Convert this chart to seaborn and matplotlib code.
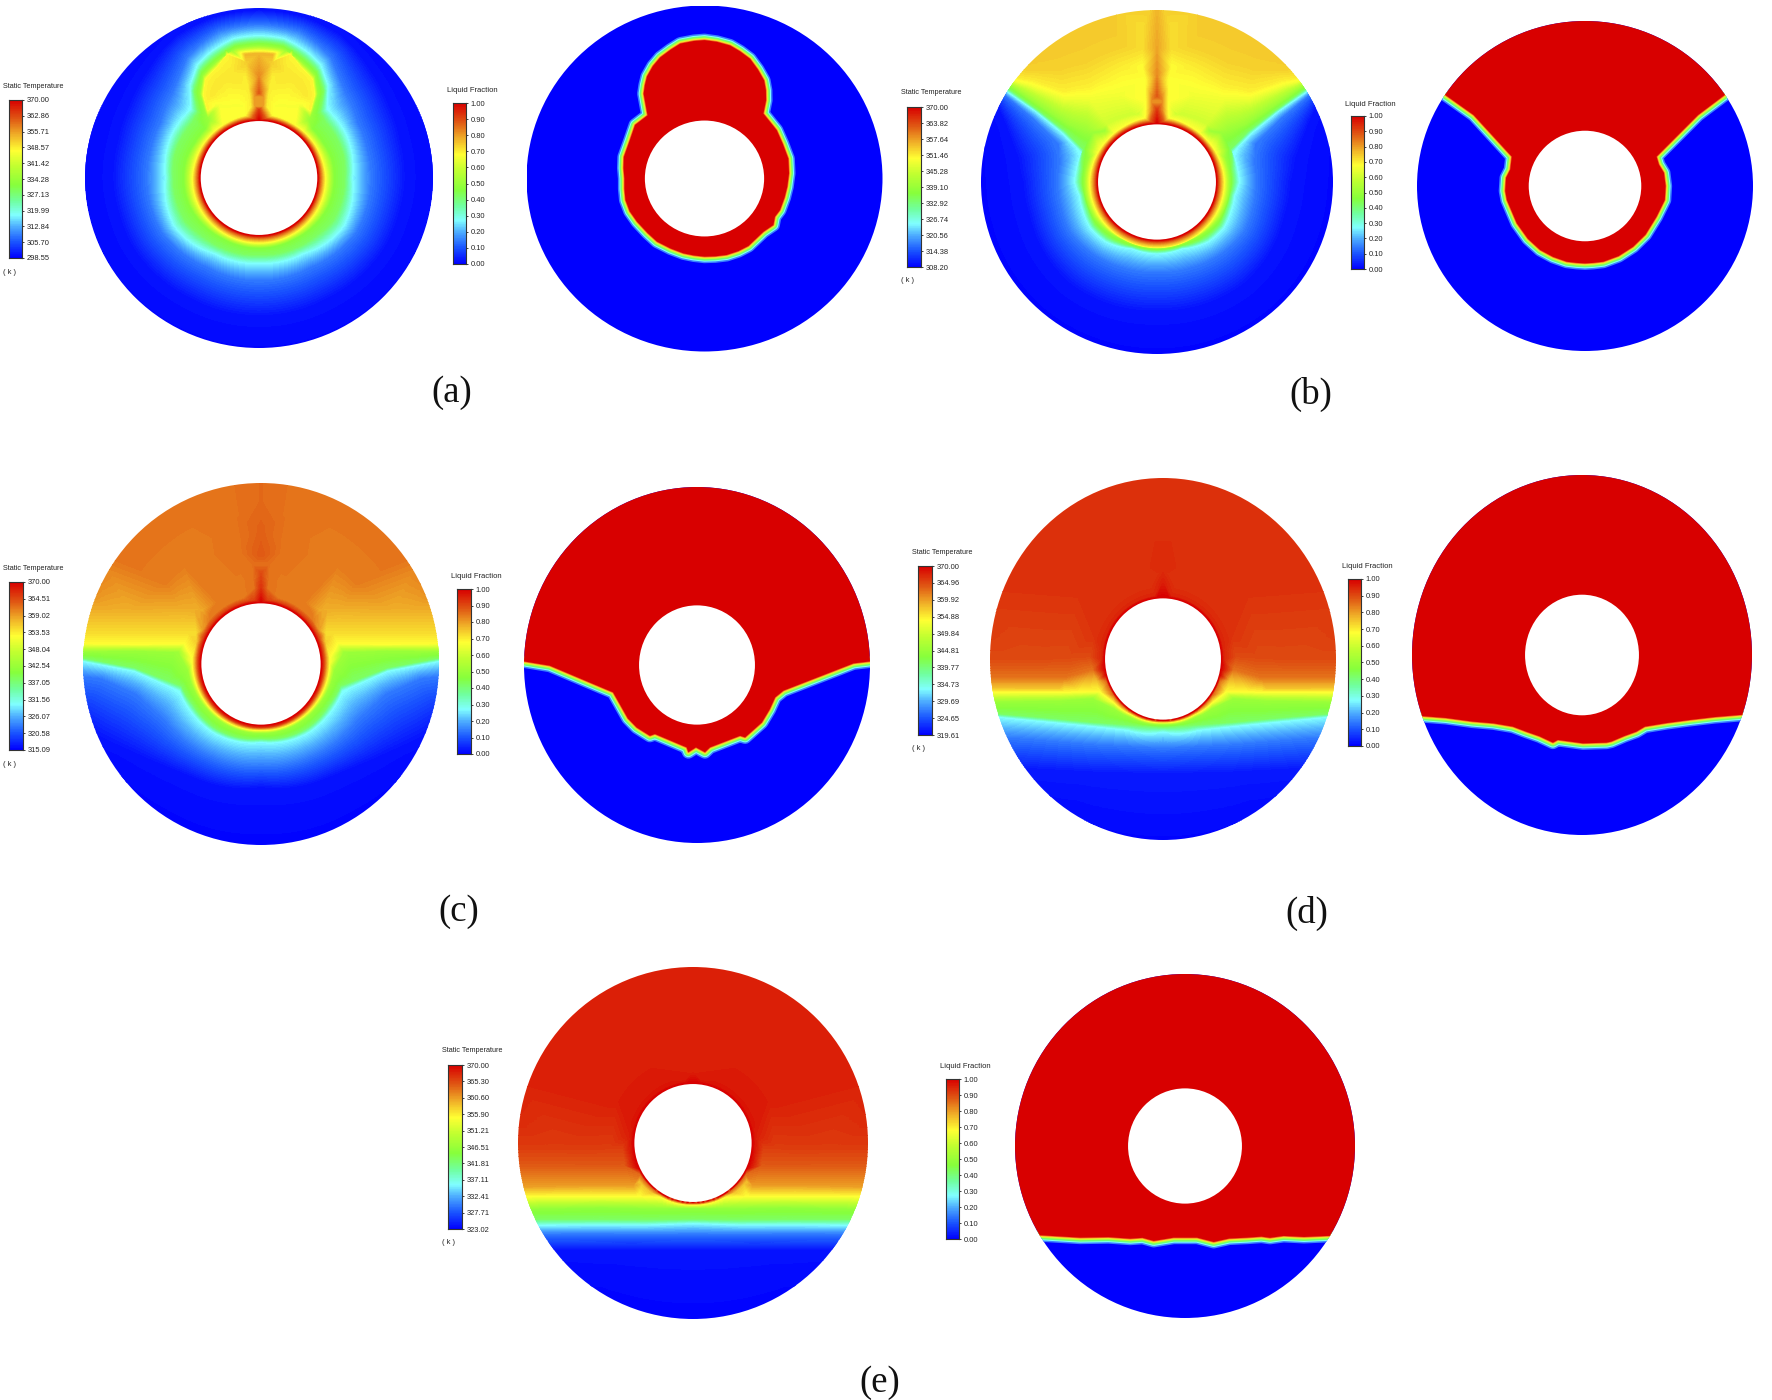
"""Melting front panels: temperature and liquid fraction in an annulus, (a) to (e)."""

import matplotlib

matplotlib.use("Agg")

import matplotlib.pyplot as plt
import matplotlib.tri as mtri
import numpy as np
import seaborn as sns
from matplotlib.colors import LinearSegmentedColormap
from matplotlib.patches import Circle, Polygon

W, H = 1772, 1400
DPI = 100
HOLE = 0.335

# Fluent style rainbow
JET_STOPS = [
    (0.00, "#0000ff"), (0.10, "#1a55ff"), (0.20, "#4fb0ff"), (0.27, "#80ffff"),
    (0.36, "#70ffa0"), (0.46, "#86ff3c"), (0.58, "#c0ff30"), (0.68, "#ffff33"),
    (0.78, "#f0b028"), (0.88, "#e05a14"), (1.00, "#d80000"),
]

# Legend tick labels
TICKS_A = ["370.00", "362.86", "355.71", "348.57", "341.42", "334.28", "327.13", "319.99", "312.84", "305.70", "298.55"]
TICKS_B = ["370.00", "363.82", "357.64", "351.46", "345.28", "339.10", "332.92", "326.74", "320.56", "314.38", "308.20"]
TICKS_C = ["370.00", "364.51", "359.02", "353.53", "348.04", "342.54", "337.05", "331.56", "326.07", "320.58", "315.09"]
TICKS_D = ["370.00", "364.96", "359.92", "354.88", "349.84", "344.81", "339.77", "334.73", "329.69", "324.65", "319.61"]
TICKS_E = ["370.00", "365.30", "360.60", "355.90", "351.21", "346.51", "341.81", "337.11", "332.41", "327.71", "323.02"]
TICKS_LF = ["1.00", "0.90", "0.80", "0.70", "0.60", "0.50", "0.40", "0.30", "0.20", "0.10", "0.00"]

# Isotherms: (colour level, [(angle from top in deg, radius / outer radius), ...])
# The right half is the mirror of the left one.
ISO_A = [
    (0.88, [(6, 0.35), (30, 0.35), (60, 0.35), (90, 0.35), (120, 0.35), (150, 0.35), (180, 0.35)]),
    (0.68, [(12, 0.372), (30, 0.37), (50, 0.372), (75, 0.375), (90, 0.38), (120, 0.38), (150, 0.38), (180, 0.38)]),
    (0.92, [(0, 0.40)]),
    (0.88, [(0, 0.50)]),
    (0.82, [(0, 0.60)]),
    (0.80, [(3, 0.42), (3, 0.50)]),
    (0.70, [(6, 0.42), (6, 0.50), (7, 0.60)]),
    (0.74, [(6, 0.68)]),
    (0.67, [(12, 0.44), (22, 0.46), (30, 0.50)]),
    (0.71, [(28, 0.56), (22, 0.61), (13, 0.64)]),
    (0.77, [(0, 0.73), (6, 0.73)]),
    (0.69, [(14, 0.745), (20, 0.69), (28, 0.65), (33, 0.58), (36, 0.50)]),
    (0.50, [(0, 0.775), (10, 0.77), (20, 0.72), (28, 0.68), (34, 0.60), (38, 0.50), (40, 0.44)]),
    (0.46, [(47, 0.42), (60, 0.42), (75, 0.43), (90, 0.43), (110, 0.43), (130, 0.42), (150, 0.41), (180, 0.41)]),
    (0.42, [(0, 0.80), (10, 0.795), (20, 0.75), (28, 0.71), (36, 0.63), (42, 0.52), (50, 0.50), (62, 0.50), (75, 0.50),
            (90, 0.49), (105, 0.49), (120, 0.49), (135, 0.47), (150, 0.46), (180, 0.45)]),
    (0.27, [(0, 0.835), (10, 0.83), (20, 0.79), (28, 0.75), (36, 0.67), (44, 0.56), (52, 0.56), (62, 0.56), (75, 0.55),
            (90, 0.535), (105, 0.55), (120, 0.56), (135, 0.54), (150, 0.51), (180, 0.50)]),
    (0.14, [(0, 0.90), (15, 0.89), (30, 0.82), (45, 0.70), (60, 0.65), (75, 0.64), (90, 0.64), (105, 0.64), (120, 0.64),
            (135, 0.62), (150, 0.60), (180, 0.60)]),
    (0.02, [(0, 0.985), (15, 0.98), (30, 0.96), (45, 0.90), (60, 0.86), (75, 0.84), (90, 0.84), (105, 0.83), (120, 0.83),
            (135, 0.82), (150, 0.81), (180, 0.81)]),
    (0.00, [(0, 1.1), (30, 1.1), (60, 1.1), (90, 1.1), (120, 1.1), (150, 1.1), (180, 1.1)]),
]

ISO_B = [
    (0.88, [(6, 0.35), (30, 0.35), (60, 0.35), (90, 0.35), (120, 0.35), (150, 0.35), (180, 0.35)]),
    (0.68, [(10, 0.375), (30, 0.37), (50, 0.37), (70, 0.375), (90, 0.38), (120, 0.38), (150, 0.38), (180, 0.38)]),
    (0.92, [(0, 0.42)]),
    (0.88, [(0, 0.50)]),
    (0.82, [(0, 0.62)]),
    (0.79, [(0, 0.78)]),
    (0.82, [(4, 0.42), (3, 0.50)]),
    (0.78, [(0, 0.90)]),
    (0.76, [(0, 1.1)]),
    (0.75, [(15, 1.1), (30, 1.1), (45, 1.1), (52, 1.1)]),
    (0.68, [(8, 0.44), (7, 0.52), (6, 0.60), (7, 0.68)]),
    (0.72, [(6, 0.78), (5, 0.90)]),
    (0.60, [(15, 0.41), (25, 0.42), (40, 0.44)]),
    (0.74, [(15, 0.82), (30, 0.82), (40, 0.87), (48, 0.98)]),
    (0.70, [(15, 0.70), (25, 0.68), (35, 0.68), (45, 0.75), (50, 0.92), (54, 1.05)]),
    (0.66, [(22, 0.55), (38, 0.62), (47, 0.72), (52, 0.92), (55, 1.05)]),
    (0.50, [(45, 0.42), (52, 0.46), (56, 0.60), (56, 0.80), (56, 1.05)]),
    (0.50, [(70, 0.41), (90, 0.41), (120, 0.41), (150, 0.385), (180, 0.385)]),
    (0.42, [(57, 1.05), (58, 0.80), (60, 0.60), (65, 0.46), (80, 0.43), (90, 0.43), (100, 0.42), (112, 0.42), (125, 0.43), (140, 0.42), (160, 0.395), (180, 0.395)]),
    (0.27, [(58, 1.05), (59, 0.80), (62, 0.60), (68, 0.46), (80, 0.46), (90, 0.465), (100, 0.445), (112, 0.45), (125, 0.46), (140, 0.45), (160, 0.41), (180, 0.415)]),
    (0.14, [(59, 1.05), (62, 0.80), (68, 0.60), (78, 0.56), (90, 0.56), (105, 0.56), (120, 0.57), (140, 0.55), (160, 0.53), (180, 0.52)]),
    (0.02, [(62, 1.05), (68, 0.93), (80, 0.80), (90, 0.76), (105, 0.75), (120, 0.76), (140, 0.77), (160, 0.76), (180, 0.75)]),
    (0.00, [(75, 1.1), (105, 1.1), (135, 1.1), (180, 1.1)]),
]

ISO_C = [
    (0.91, [(6, 0.352), (30, 0.352), (60, 0.352), (90, 0.352), (120, 0.35), (150, 0.35), (180, 0.35)]),
    (0.84, [(15, 0.375), (30, 0.375), (50, 0.375)]),
    (0.80, [(60, 0.375)]),
    (0.74, [(72, 0.38)]),
    (0.93, [(0, 0.42)]),
    (0.90, [(0, 0.50)]),
    (0.88, [(0, 0.60)]),
    (0.87, [(0, 0.75)]),
    (0.86, [(0, 0.90), (0, 1.1)]),
    (0.85, [(5, 0.42), (5, 0.55)]),
    (0.85, [(10, 0.62), (10, 0.80), (10, 1.1)]),
    (0.85, [(10, 1.1), (30, 1.1), (50, 1.1), (65, 1.1)]),
    (0.84, [(15, 0.45), (35, 0.42), (45, 0.40)]),
    (0.84, [(30, 0.70), (50, 0.70)]),
    (0.78, [(48, 0.446), (55, 0.53), (65, 0.71), (72, 0.97), (75, 1.16)]),
    (0.72, [(65, 0.40), (75, 0.66), (80, 0.98), (82, 1.22)]),
    (0.68, [(75, 0.445), (81, 0.71), (83.4, 1.0), (84.5, 1.2)]),
    (0.68, [(85, 0.385), (100, 0.38), (120, 0.375), (150, 0.37), (180, 0.365)]),
    (0.50, [(82, 0.47), (84, 0.71), (86, 1.0), (87, 1.2)]),
    (0.50, [(95, 0.41), (110, 0.40), (130, 0.39), (150, 0.385), (180, 0.38)]),
    (0.42, [(87.5, 1.2), (88, 1.0), (91.5, 0.71), (105, 0.46), (120, 0.44), (143, 0.435), (180, 0.41)]),
    (0.27, [(88.5, 1.2), (89, 1.0), (93, 0.71), (108, 0.478), (122, 0.47), (145, 0.46), (180, 0.43)]),
    (0.14, [(92, 1.2), (95, 0.90), (103, 0.72), (120, 0.62), (150, 0.58), (180, 0.56)]),
    (0.02, [(103, 1.15), (115, 0.98), (130, 0.82), (150, 0.73), (180, 0.68)]),
    (0.00, [(110, 1.25), (125, 1.1), (150, 1.1), (180, 1.1)]),
]

ISO_D = [
    (0.95, [(8, 0.35), (40, 0.35), (70, 0.35), (90, 0.35)]),
    (0.86, [(110, 0.347), (140, 0.345), (180, 0.343)]),
    (0.96, [(0, 0.42)]),
    (0.94, [(0, 0.50)]),
    (0.93, [(0, 1.1), (30, 1.1), (60, 1.1), (78, 1.1)]),
    (0.93, [(30, 0.60), (55, 0.60)]),
    (0.93, [(10, 0.42), (50, 0.42), (72, 0.42)]),
    (0.90, [(88, 0.42), (90, 0.70), (90, 1.1)]),
    (0.85, [(98, 0.41)]),
    (0.76, [(107, 0.40)]),
    (0.85, [(100, 0.58), (97, 0.82), (95, 1.15)]),
    (0.75, [(105, 0.62), (101, 0.84), (98, 1.15)]),
    (0.68, [(116, 0.405), (107, 0.62), (102, 0.87), (99.5, 1.1)]),
    (0.68, [(130, 0.37), (150, 0.355), (180, 0.35)]),
    (0.50, [(118, 0.46), (111, 0.64), (105, 0.90), (101.5, 1.2)]),
    (0.50, [(135, 0.39), (150, 0.37), (180, 0.36)]),
    (0.42, [(104, 1.24), (107.5, 1.0), (114.6, 0.77), (131, 0.53), (180, 0.375)]),
    (0.27, [(104.5, 1.24), (108.6, 1.0), (116, 0.78), (132.8, 0.545), (152.9, 0.44), (180, 0.40)]),
    (0.14, [(109.3, 1.27), (118.8, 0.91), (139.6, 0.617), (180, 0.49)]),
    (0.03, [(116.6, 1.34), (126.9, 1.0), (147, 0.74), (180, 0.63)]),
    (0.00, [(130, 1.3), (150, 1.1), (180, 1.1)]),
]

ISO_E = [
    (0.97, [(8, 0.352), (40, 0.352), (70, 0.352), (100, 0.352)]),
    (0.86, [(120, 0.348), (135, 0.345), (150, 0.343), (180, 0.342)]),
    (0.75, [(125, 0.375), (140, 0.365)]),
    (0.96, [(0, 0.40)]),
    (0.96, [(0, 1.1), (30, 1.1), (60, 1.1), (78, 1.1)]),
    (0.96, [(30, 0.50), (60, 0.50)]),
    (0.92, [(92, 0.40), (92, 0.60), (91, 1.1)]),
    (0.88, [(108, 0.41)]),
    (0.88, [(105, 0.50), (99, 0.80), (96, 1.2)]),
    (0.80, [(125, 0.42), (112, 0.64), (103, 1.1)]),
    (0.68, [(135, 0.425), (120, 0.60), (107, 1.03), (104, 1.25)]),
    (0.68, [(150, 0.355), (180, 0.35)]),
    (0.48, [(180, 0.37), (150, 0.43), (125, 0.64), (112, 1.0), (107.3, 1.25)]),
    (0.42, [(180, 0.43), (150, 0.50), (130, 0.67), (115.5, 1.0), (110, 1.26)]),
    (0.27, [(180, 0.455), (150, 0.535), (130, 0.72), (118, 0.99), (112, 1.24)]),
    (0.14, [(180, 0.515), (150, 0.595), (130, 0.80), (121, 1.0), (114, 1.27)]),
    (0.02, [(180, 0.61), (150, 0.70), (130, 0.95), (125, 1.06), (120, 1.22)]),
    (0.00, [(180, 1.1), (150, 1.1), (135, 1.2)]),
]

# Melt fronts, x and y relative to the outer radius
FRONT_A_X = [0, -0.06, -0.136, -0.19, -0.249, -0.29, -0.323, -0.335, -0.342, -0.32, -0.39, -0.42, -0.453, -0.455, -0.45, -0.45,
             -0.444, -0.42, -0.379, -0.32, -0.267, -0.19, -0.118, -0.06, 0,
             0.06, 0.125, 0.19, 0.247, 0.331, 0.387, 0.396, 0.424, 0.45, 0.465, 0.475, 0.471, 0.44, 0.406, 0.331, 0.346, 0.345, 0.335, 0.30, 0.256, 0.2, 0.144, 0.07]
FRONT_A_Y = [0.80, 0.795, 0.78, 0.745, 0.70, 0.65, 0.59, 0.54, 0.49, 0.365, 0.31, 0.22, 0.125, 0.06, 0, -0.06,
             -0.125, -0.19, -0.25, -0.315, -0.365, -0.405, -0.433, -0.445, -0.452,
             -0.45, -0.442, -0.42, -0.39, -0.308, -0.269, -0.221, -0.183, -0.11, -0.048, 0.03, 0.115, 0.2, 0.279, 0.375, 0.452, 0.51, 0.567, 0.63, 0.692, 0.735, 0.769, 0.79]
FRONT_B_X = [-1.0, -0.832, -0.663, -0.436, -0.445, -0.47, -0.475, -0.465, -0.406, -0.34, -0.267, -0.19, -0.109, -0.05, 0,
             0.05, 0.109, 0.2, 0.287, 0.36, 0.426, 0.475, 0.48, 0.47, 0.44, 0.426, 0.673, 0.832, 1.0, 1.0, -1.0]
FRONT_B_Y = [0.66, 0.552, 0.43, 0.178, 0.10, 0.05, -0.03, -0.085, -0.226, -0.32, -0.388, -0.43, -0.459, -0.466, -0.469,
             -0.466, -0.459, -0.425, -0.368, -0.295, -0.186, -0.085, 0.0, 0.08, 0.13, 0.178, 0.43, 0.552, 0.66, 1.2, 1.2]
FRONT_C_X = [-1.1, -1.0, -0.851, -0.485, -0.436, -0.40, -0.349, -0.31, -0.272, -0.243, -0.06, -0.05, -0.006, 0.046, 0.075,
             0.249, 0.278, 0.375, 0.42, 0.452, 0.5, 0.905, 1.0, 1.1, 1.1, -1.1]
FRONT_C_Y = [0.02, 0.02, -0.004, -0.154, -0.238, -0.30, -0.351, -0.375, -0.398, -0.388, -0.463, -0.49, -0.463, -0.49, -0.463,
             -0.398, -0.407, -0.323, -0.25, -0.182, -0.144, 0.009, 0.02, 0.02, 1.2, 1.2]
FRONT_D_X = [-1.1, -0.95, -0.80, -0.644, -0.52, -0.407, -0.329, -0.25, -0.171, -0.142, 0.006, 0.144, 0.173, 0.25, 0.32, 0.37, 0.5, 0.636, 0.78, 0.931, 1.1, 1.1, -1.1]
FRONT_D_Y = [-0.33, -0.339, -0.35, -0.37, -0.38, -0.398, -0.426, -0.452, -0.487, -0.472, -0.491, -0.487, -0.481, -0.45, -0.426, -0.398, -0.378, -0.361, -0.345, -0.333, -0.33, 1.2, 1.2]
FRONT_E_X = [-1.1, -0.851, -0.616, -0.45, -0.322, -0.25, -0.184, -0.067, 0.071, 0.169, 0.26, 0.365, 0.45, 0.5, 0.58, 0.7, 0.835, 1.1, 1.1, -1.1]
FRONT_E_Y = [-0.519, -0.519, -0.533, -0.530, -0.539, -0.534, -0.552, -0.533, -0.533, -0.558, -0.538, -0.533, -0.527, -0.534, -0.523, -0.529, -0.523, -0.52, 1.2, 1.2]

# Layout in picture pixels
TEMP_PANELS = [  # cx, cy, rx, ry
    (259, 178, 174, 170), (1157, 182, 176, 172), (261, 664, 178, 181), (1163, 659, 173, 181), (693, 1143, 175, 176),
]
FRAC_PANELS = [
    (704.5, 178.5, 178, 173), (1585, 186, 168, 165), (697, 665, 173, 178), (1582, 655, 170, 180), (1185, 1146, 170, 172),
]
TEMP_BARS = [  # left, top, right, bottom
    (9, 100, 22, 258), (907, 107, 921, 267), (9, 582, 23, 750), (918, 566, 932, 735), (448, 1065, 462, 1229),
]
FRAC_BARS = [
    (453, 103, 466, 264), (1351, 116, 1364, 269), (457, 589, 471, 754), (1348, 579, 1361, 746), (946, 1079, 959, 1239),
]
TAGS = [("(a)", 452, 393), ("(b)", 1311, 394), ("(c)", 459, 912), ("(d)", 1307, 913), ("(e)", 880, 1383)]

sns.set_theme(style="white")
plt.rcParams["font.family"] = ["Liberation Sans", "DejaVu Sans"]

rainbow = LinearSegmentedColormap.from_list("fluent", JET_STOPS, N=512)


def add_panel(fig, box):
    cx, cy, rx, ry = box
    ax = fig.add_axes([(cx - rx) / W, 1 - (cy + ry) / H, 2 * rx / W, 2 * ry / H])
    ax.set_xlim(-1, 1)
    ax.set_ylim(-1, 1)
    ax.axis("off")
    return ax


def to_xy(angle, r):
    t = np.radians(angle)
    return -r * np.sin(t), r * np.cos(t)


def mesh_nodes(pts):
    # mesh nodes along one isotherm, so the triangles follow the line and not the gaps between readings
    nodes = [to_xy(*pts[0])]
    for (a0, r0), (a1, r1) in zip(pts[:-1], pts[1:]):
        x0, y0 = to_xy(a0, r0)
        x1, y1 = to_xy(a1, r1)
        n = max(1, int(np.hypot(x1 - x0, y1 - y0) / 0.02))
        for f in np.arange(1, n + 1) / n:
            if abs(r1 - r0) < 0.1 * max(r0, r1):
                nodes.append(to_xy(a0 + f * (a1 - a0), r0 + f * (r1 - r0)))  # arc around the tube
            else:
                nodes.append((x0 + f * (x1 - x0), y0 + f * (y1 - y0)))  # straight run
    return nodes


def draw_temperature(ax, isos):
    field = {}
    wall_angles = list(range(0, 181, 5))
    rows = [(1.0, [(a, 0.31) for a in wall_angles]), (1.0, [(a, 0.338) for a in wall_angles])] + isos
    for level, pts in rows:
        for x, y in mesh_nodes(pts):
            field.setdefault((round(x, 4), round(y, 4)), level)
            field.setdefault((round(-x, 4), round(y, 4)), level)
    xy = np.array(list(field.keys()))
    tri = mtri.Triangulation(xy[:, 0], xy[:, 1])
    cs = ax.tricontourf(tri, np.array(list(field.values())), levels=np.linspace(0, 1, 129), cmap=rainbow, vmin=0, vmax=1, extend="both")
    cs.set_clip_path(Circle((0, 0), 1, transform=ax.transData))
    ax.add_patch(Circle((0, 0), HOLE, fc="white", ec="none", zorder=5))


def draw_fraction(ax, fx, fy):
    ax.add_patch(Circle((0, 0), 1, fc="#0000ff", ec="none", zorder=1))
    outline = np.column_stack([fx, fy])
    clip = Circle((0, 0), 1, transform=ax.transData)
    # widest stroke first, the red fill on top hides the inner half of each
    for width, colour in [(13, "#3a80ff"), (10, "#80ffff"), (8, "#70ff70"), (5, "#c8ff30"), (3, "#ffe030"), (1.5, "#f07020")]:
        p = Polygon(outline, closed=True, fc="none", ec=colour, lw=width * 72 / DPI, joinstyle="round", zorder=2)
        ax.add_patch(p)
        p.set_clip_path(clip)
    p = Polygon(outline, closed=True, fc="#d80000", ec="none", zorder=3)
    ax.add_patch(p)
    p.set_clip_path(clip)
    ax.add_patch(Circle((0, 0), HOLE, fc="white", ec="none", zorder=5))


def draw_legend(fig, bar, title, labels, show_unit, title_gap, title_size):
    left, top, right, bottom = bar
    ax = fig.add_axes([left / W, 1 - bottom / H, (right - left) / W, (bottom - top) / H])
    high, low = float(labels[0]), float(labels[-1])
    ramp = np.linspace(high, low, 220)[:, None]
    sns.heatmap(ramp, cmap=rainbow, vmin=low, vmax=high, cbar=False, ax=ax, xticklabels=False, yticklabels=False)
    ax.set_yticks(np.linspace(0, 220, len(labels)))
    ax.set_yticklabels(labels, rotation=0, fontsize=5.4, color="#222222")
    ax.yaxis.tick_right()
    ax.tick_params(axis="y", length=1.6, width=0.6, pad=1.8, color="#222222", right=True)
    for spine in ax.spines.values():
        spine.set_visible(True)
        spine.set_linewidth(0.8)
        spine.set_color("#333333")
    fig.text((left - 6) / W, 1 - (top - title_gap) / H, title, fontsize=title_size, color="#222222", va="center", ha="left")
    if show_unit:
        fig.text((left - 6) / W, 1 - (bottom + 14) / H, "( k )", fontsize=5.4, color="#222222", va="center", ha="left")


fig = plt.figure(figsize=(W / DPI, H / DPI), dpi=DPI, facecolor="white")

temp_ticks = [TICKS_A, TICKS_B, TICKS_C, TICKS_D, TICKS_E]
temp_isos = [ISO_A, ISO_B, ISO_C, ISO_D, ISO_E]
fronts = [
    (FRONT_A_X, FRONT_A_Y), (FRONT_B_X, FRONT_B_Y), (FRONT_C_X, FRONT_C_Y), (FRONT_D_X, FRONT_D_Y), (FRONT_E_X, FRONT_E_Y),
]

for i in range(5):
    draw_temperature(add_panel(fig, TEMP_PANELS[i]), temp_isos[i])
    draw_fraction(add_panel(fig, FRAC_PANELS[i]), *fronts[i])
    draw_legend(fig, TEMP_BARS[i], "Static Temperature", temp_ticks[i], True, 14, 5.2)
    draw_legend(fig, FRAC_BARS[i], "Liquid Fraction", TICKS_LF, False, 12, 5.5)

for tag, x, y in TAGS:
    fig.text(x / W, 1 - y / H, tag, fontsize=26.5, family=["Liberation Serif"], color="#111111", ha="center", va="center")

fig.savefig("out.png", dpi=DPI)
plt.close(fig)
